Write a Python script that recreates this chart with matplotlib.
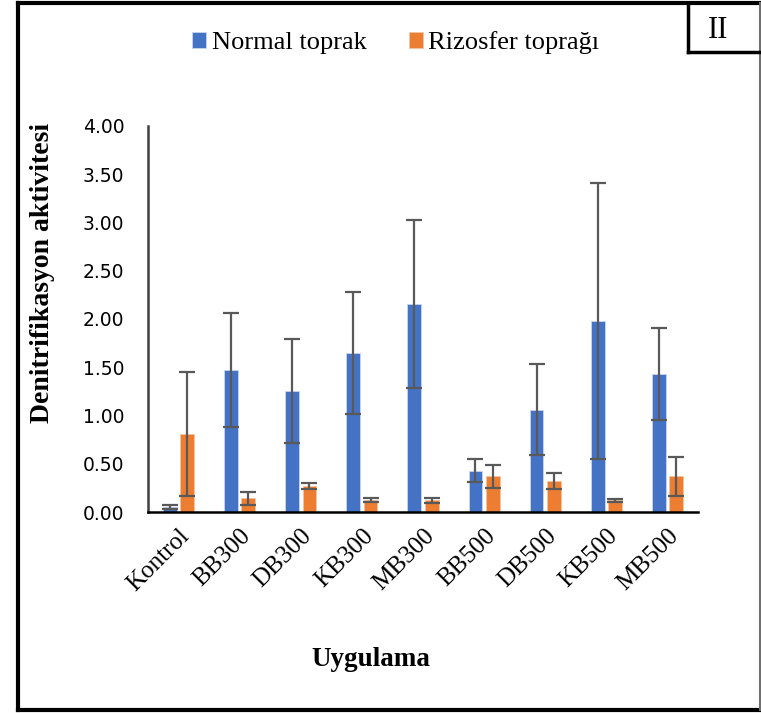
import matplotlib
matplotlib.use('Agg')
import matplotlib.pyplot as plt
from matplotlib.lines import Line2D
import numpy as np

categories = ['Kontrol', 'BB300', 'DB300', 'KB300', 'MB300',
              'BB500', 'DB500', 'KB500', 'MB500']
normal = [0.05, 1.47, 1.25, 1.65, 2.16, 0.43, 1.06, 1.98, 1.43]
normal_err = [0.02, 0.59, 0.54, 0.63, 0.87, 0.12, 0.47, 1.43, 0.48]
rizosfer = [0.81, 0.14, 0.27, 0.12, 0.12, 0.37, 0.32, 0.12, 0.37]
rizosfer_err = [0.64, 0.07, 0.03, 0.02, 0.03, 0.12, 0.08, 0.015, 0.20]
yticks = [0.0, 0.5, 1.0, 1.5, 2.0, 2.5, 3.0, 3.5, 4.0]

serif = 'Liberation Serif'
blue = '#4472C4'
orange = '#ED7D31'
err_color = '#595959'

fig = plt.figure(figsize=(7.61, 7.13), dpi=100)
ax = fig.add_axes([0.1945, 0.2819, 0.7227, 0.5414])

x = np.arange(len(categories))
w = 0.225
off = 0.142
ax.bar(x - off, normal, w, color=blue, edgecolor='#c9d6ee', linewidth=0.6,
       label='Normal toprak')
ax.bar(x + off, rizosfer, w, color=orange, edgecolor='#f6c4a2', linewidth=0.6,
       label='Rizosfer toprağı')
ax.errorbar(x - off, normal, yerr=normal_err, fmt='none', ecolor=err_color,
            elinewidth=1.6, capsize=6, capthick=1.6)
ax.errorbar(x + off, rizosfer, yerr=rizosfer_err, fmt='none', ecolor=err_color,
            elinewidth=1.6, capsize=6, capthick=1.6)

ax.set_xlim(-0.5, len(categories) - 0.5)
ax.set_ylim(0, 4)
ax.set_yticks(yticks)
ax.set_yticklabels(['%.2f' % v for v in yticks], fontsize=13.5,
                   family='DejaVu Sans')
ax.set_xticks(x)
ax.set_xticklabels(categories, rotation=45, ha='right', va='top',
                   rotation_mode='anchor', fontsize=18, family=serif)
ax.tick_params(axis='both', length=0)
ax.tick_params(axis='y', pad=17)
ax.tick_params(axis='x', pad=9)

for side in ['top', 'right']:
    ax.spines[side].set_visible(False)
ax.spines['left'].set_color('#404040')
ax.spines['left'].set_linewidth(1.8)
ax.spines['bottom'].set_color('black')
ax.spines['bottom'].set_linewidth(1.8)

# legend across the top
fig.legend(loc='center', bbox_to_anchor=(0.52, 0.940), ncol=2, frameon=False,
           prop={'family': serif, 'size': 19}, handlelength=0.55,
           handleheight=0.55, handletextpad=0.2, columnspacing=1.6)

fig.text(371 / 761, 1 - 660 / 713, 'Uygulama', ha='center', va='center',
         fontsize=19.5, fontweight='bold', family=serif)
fig.text(43 / 761, 1 - 273 / 713, 'Denitrifikasyon aktivitesi', ha='center',
         va='center', rotation=90, fontsize=20, fontweight='bold', family=serif)

# outer frame
W, H = 761.0, 713.0
def fline(xs, ys, **kw):
    fig.add_artist(Line2D([v / W for v in xs], [1 - v / H for v in ys],
                          transform=fig.transFigure, **kw))

fline([18, 18], [3, 710], color='black', lw=3)
fline([18, 761], [710, 710], color='black', lw=3)
fline([18, 761], [3, 3], color='black', lw=3)
fline([759.5, 759.5], [3, 710], color='#707070', lw=1.5)
# "II" box
fline([688, 688], [3, 52], color='black', lw=2.5)
fline([688, 761], [52, 52], color='black', lw=2.5)
fig.text(718 / W, 1 - 30 / H, 'II', ha='center', va='center', fontsize=22,
         family=serif)

fig.savefig('out.png', dpi=100)
